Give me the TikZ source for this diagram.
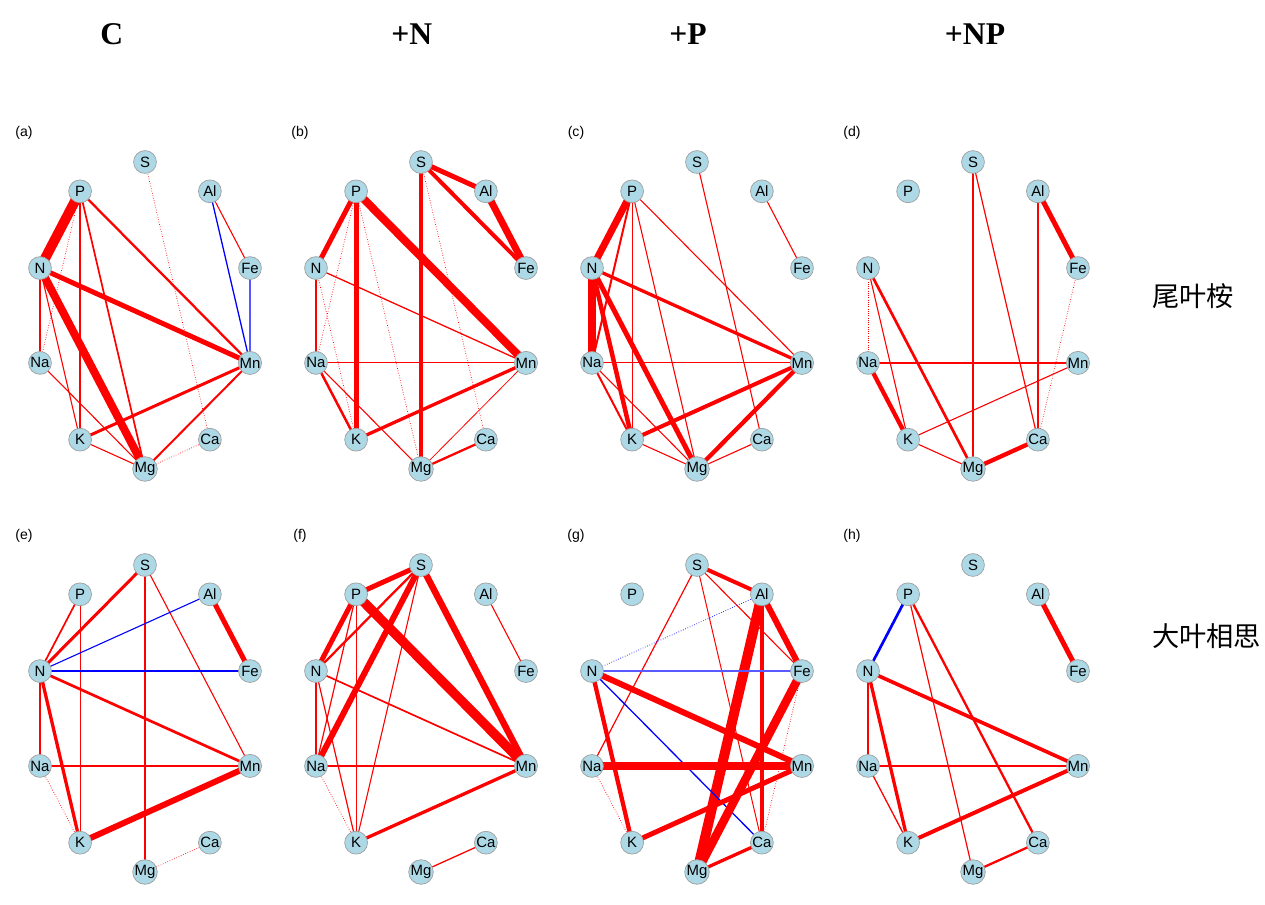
\documentclass[tikz,border=0pt]{standalone}
\usepackage{fontspec}
\setmainfont{Liberation Serif}
\setsansfont{Liberation Sans}
\newfontfamily\cjk{Noto Sans CJK SC}
\usetikzlibrary{backgrounds}

\definecolor{lightblue}{HTML}{ADD8E6}
\tikzset{
	elem/.style = {circle, draw = gray!75, fill = lightblue, minimum size = 13pt, inner sep = 0pt, font = \sffamily\fontsize{8.5}{9}\selectfont},
	tag/.style = {font = \sffamily\fontsize{8}{9}\selectfont},
	head/.style = {anchor = base, font = \bfseries\fontsize{18}{20}\selectfont},
	plant/.style = {anchor = west, font = \cjk\fontsize{15.5}{17}\selectfont},
	rline/.style = {draw = red},
	bline/.style = {draw = blue},
	lbline/.style = {draw = blue!65},
	rdot/.style = {draw = red, densely dotted},
	bdot/.style = {draw = blue, densely dotted}
}

\begin{document}
\begin{tikzpicture}[x = 0.02cm, y = -0.02cm]
	\useasboundingbox (0, 0) rectangle (1265, 905);
	% treatments
	\node [head] (hC) at (111.7, 45) {C};
	\node [head] (hN) at (411.7, 45) {+N};
	\node [head] (hP) at (688, 45) {+P};
	\node [head] (hNP) at (975, 45) {+NP};
	% species
	\node [plant] (sp1) at (1146, 296) {尾叶桉};
	\node [plant] (sp2) at (1146, 636) {大叶相思};
	% elements on an ellipse, one panel each
	\foreach \p/\cx/\cy in {a/145/315.5, b/421/315.5, c/697/315.5, d/973/315.5, e/145/718.5, f/421/718.5, g/697/718.5, h/973/718.5} {
		\node [tag] (\p-tag) at (\cx - 121, \cy - 182.5) {(\p)};
		\foreach \e [count = \i] in {S, P, N, Na, K, Mg, Ca, Mn, Fe, Al}
			\node [elem] (\p-\e) at ({\cx + 110.4 * cos(54 + 36 * \i)}, {\cy - 153.5 * sin(54 + 36 * \i)}) {\e};
	}
	\begin{scope}[on background layer]
		% (a)
		\foreach \u/\v/\w/\s in {P/N/10/rline, P/Na/0.7/rdot, P/K/2.7/rline, P/Mg/1.7/rline, P/Mn/2.3/rline, N/Mn/5/rline, N/Mg/8/rline, N/Na/2.7/rline, N/K/1.1/rline, Na/Mg/1.1/rline, K/Mg/1.1/rline, K/Mn/3/rline, Mn/Mg/2/rline, Ca/Mg/0.7/rdot, S/Ca/0.7/rdot, Al/Fe/1.1/rline, Al/Mn/1.3/bline, Fe/Mn/1.1/lbline}
			\draw [\s, line width = \w * 0.567pt] (a-\u.center) -- (a-\v.center);
		% (b)
		\foreach \u/\v/\w/\s in {S/Al/5/rline, S/Fe/4/rline, Al/Fe/7/rline, S/Mg/3.5/rline, S/Ca/0.7/rdot, P/N/5/rline, P/K/5/rline, P/Mn/8/rline, P/Na/0.7/rdot, P/Mg/0.7/rdot, N/K/0.7/rdot, N/Na/1.1/rline, N/Mn/1.3/rline, Na/Mn/1.1/rline, Na/K/2.5/rline, Na/Mg/1.1/rline, K/Mn/3.3/rline, Mn/Mg/0.8/rline, Ca/Mg/2.3/rline}
			\draw [\s, line width = \w * 0.567pt] (b-\u.center) -- (b-\v.center);
		% (c)
		\foreach \u/\v/\w/\s in {P/N/7/rline, P/Na/2/rline, P/K/1.1/rline, P/Mg/1.1/rline, P/Mn/1.1/rline, N/Na/8.5/rline, N/K/4.5/rline, N/Mg/5/rline, N/Mn/3.3/rline, Na/Mn/1.1/rline, Na/K/2/rline, Na/Mg/1.1/rline, K/Mn/4/rline, K/Mg/1.1/rline, Mn/Mg/4.3/rline, Ca/Mg/1.1/rline, S/Ca/1.1/rline, Al/Fe/1.1/rline}
			\draw [\s, line width = \w * 0.567pt] (c-\u.center) -- (c-\v.center);
		% (d)
		\foreach \u/\v/\w/\s in {S/Mg/1.7/rline, S/Ca/1.2/rline, Al/Fe/5/rline, Al/Ca/1.4/rline, Fe/Ca/0.7/rdot, N/Na/0.5/rdot, N/K/1.1/rline, N/Mg/2.7/rline, Na/Mn/2/rline, Na/K/4.3/rline, K/Mn/1.1/rline, K/Mg/1.1/rline, Mg/Ca/4.3/rline}
			\draw [\s, line width = \w * 0.567pt] (d-\u.center) -- (d-\v.center);
		% (e)
		\foreach \u/\v/\w/\s in {S/N/3/rline, S/Mg/1.2/rline, S/Mn/1.1/rline, P/N/1.7/rline, P/K/1.1/rline, Al/N/1.1/bline, Al/Fe/5/rline, N/Fe/1.2/bline, N/Mn/2.7/rline, N/Na/1.1/rline, N/K/3.3/rline, Na/Mn/1.2/rline, Na/K/0.7/rdot, K/Mn/6/rline, Mg/Ca/0.7/rdot}
			\draw [\s, line width = \w * 0.567pt] (e-\u.center) -- (e-\v.center);
		% (f)
		\foreach \u/\v/\w/\s in {S/P/5/rline, S/N/2.3/rline, S/Na/6/rline, S/K/1.1/rline, S/Mn/6.5/rline, P/N/5/rline, P/Mn/9.5/rline, P/Na/1.2/rline, P/K/1.2/rline, N/Mn/1.7/rline, N/Na/1.1/rline, N/K/1.2/rline, Na/Mn/1.7/rline, Na/K/0.7/rdot, K/Mn/3.3/rline, Al/Fe/1.1/rline, Mg/Ca/1.3/rline}
			\draw [\s, line width = \w * 0.567pt] (f-\u.center) -- (f-\v.center);
		% (g)
		\foreach \u/\v/\w/\s in {S/Al/4/rline, S/Fe/1.1/rline, S/Ca/1/rline, S/Na/1.2/rline, Al/Fe/6/rline, Al/Mg/10/rline, Al/Ca/4/rline, Al/N/0.7/bdot, N/Fe/1.2/lbline, N/Mn/6/rline, N/K/4.3/rline, N/Ca/1.3/bline, Na/Mn/7.5/rline, Na/K/0.7/rdot, K/Mn/5/rline, Fe/Mg/8.5/rline, Fe/Ca/0.7/rdot, Mg/Ca/3.3/rline}
			\draw [\s, line width = \w * 0.567pt] (g-\u.center) -- (g-\v.center);
		% (h)
		\foreach \u/\v/\w/\s in {P/N/2.7/bline, P/Mg/1.2/rline, P/Ca/2.3/rline, Al/Fe/5/rline, N/Mn/3.7/rline, N/Na/2.7/rline, N/K/3.3/rline, Na/Mn/1.2/rline, Na/K/1.3/rline, K/Mn/4/rline, Mg/Ca/2.3/rline}
			\draw [\s, line width = \w * 0.567pt] (h-\u.center) -- (h-\v.center);
	\end{scope}
\end{tikzpicture}
\end{document}
